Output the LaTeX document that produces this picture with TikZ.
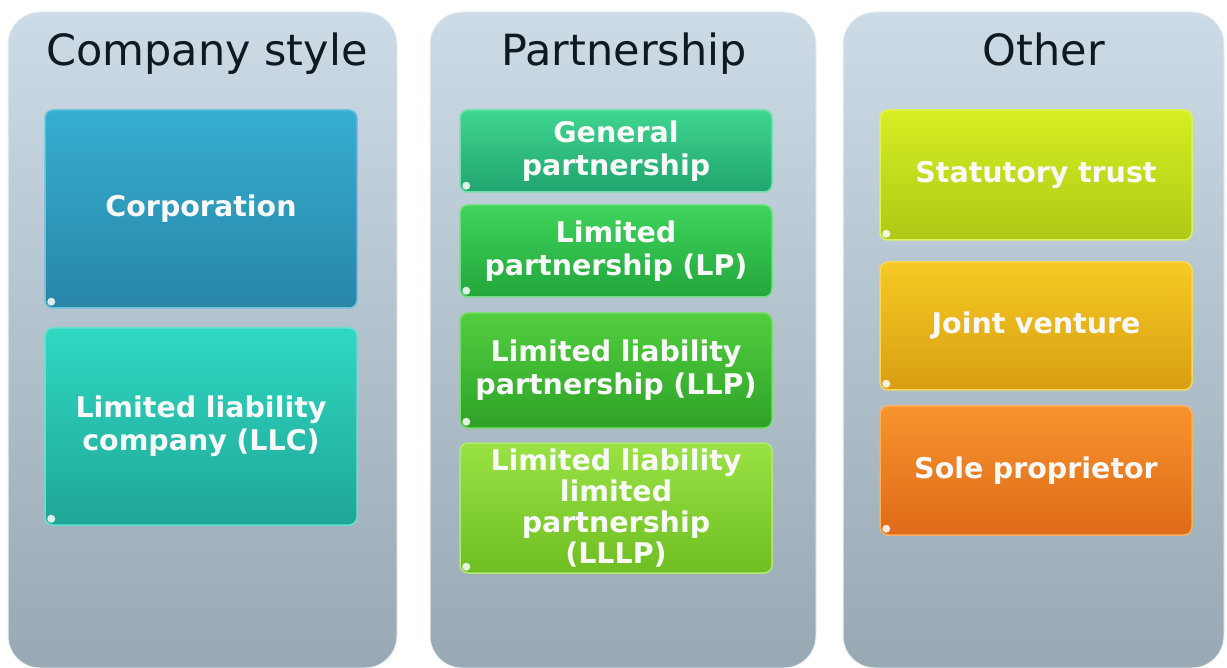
\documentclass[tikz,border=0pt]{standalone}
\usepackage{fontspec}
\setmainfont{DejaVu Sans}
\definecolor{paneltop}{HTML}{CCDBE5}
\definecolor{panelbot}{HTML}{98A9B3}
\definecolor{titlecol}{HTML}{101820}
\definecolor{corpT}{HTML}{36AED2}\definecolor{corpB}{HTML}{2886A6}
\definecolor{llcT}{HTML}{30D8C2}\definecolor{llcB}{HTML}{1FA696}
\definecolor{gpT}{HTML}{40D690}\definecolor{gpB}{HTML}{20A46E}
\definecolor{lpT}{HTML}{40D45E}\definecolor{lpB}{HTML}{22A63A}
\definecolor{llpT}{HTML}{52CE3E}\definecolor{llpB}{HTML}{2EA228}
\definecolor{lllpT}{HTML}{9AE244}\definecolor{lllpB}{HTML}{6EBE22}
\definecolor{stT}{HTML}{D6EE22}\definecolor{stB}{HTML}{AEC816}
\definecolor{jvT}{HTML}{F6CA24}\definecolor{jvB}{HTML}{D89E12}
\definecolor{spT}{HTML}{F8942E}\definecolor{spB}{HTML}{DE6A18}
\tikzset{
  panel/.style={rounded corners=32pt, top color=paneltop, bottom color=panelbot, draw=white!60!paneltop, line width=1pt},
  paneltitle/.style={anchor=base, font=\fontsize{43}{43}\selectfont, text=titlecol},
  entry/.style 2 args={rounded corners=8pt, top color=#1, bottom color=#2, draw=#1!75!white, line width=1.5pt,
     minimum width=312pt, text width=306pt, align=center, text=white!95!gray,
     font=\bfseries\fontsize{28.5}{33}\selectfont, inner sep=0pt},
  gloss/.style={fill=white, opacity=0.85, draw=none}
}
\begin{document}
\begin{tikzpicture}[x=1pt,y=-1pt]
\useasboundingbox (0,0) rectangle (1227,668);
\fill[white] (0,0) rectangle (1227,668);
% panels
\path[panel] (8,12) rectangle (397,668);
\path[panel] (430,12) rectangle (816,668);
\path[panel] (843,12) rectangle (1224,668);
\node[paneltitle] (t1) at (207,66) {Company style};
\node[paneltitle] (t2) at (624,66) {Partnership};
\node[paneltitle] (t3) at (1044,66) {Other};
% company style
\node[entry={corpT}{corpB}, minimum height=198pt] (corp) at (201,209) {Corporation};
\node[entry={llcT}{llcB}, minimum height=197pt] (llc) at (201,426.5) {Limited liability\\company (LLC)};
% partnership
\node[entry={gpT}{gpB}, minimum height=82pt] (gp) at (616,151) {General\\partnership};
\node[entry={lpT}{lpB}, minimum height=92pt] (lp) at (616,251) {Limited\\partnership (LP)};
\node[entry={llpT}{llpB}, minimum height=115pt] (llp) at (616,370.5) {Limited liability\\partnership (LLP)};
\node[entry={lllpT}{lllpB}, minimum height=130pt, font=\bfseries\fontsize{28.5}{31}\selectfont] (lllp) at (616,508) {Limited liability\\limited\\partnership\\(LLLP)};
% other
\node[entry={stT}{stB}, minimum height=130pt] (st) at (1036,175) {Statutory trust};
\node[entry={jvT}{jvB}, minimum height=128pt] (jv) at (1036,326) {Joint venture};
\node[entry={spT}{spB}, minimum height=129pt] (sp) at (1036,470.5) {Sole proprietor};
% gloss dots
\foreach \n in {corp,llc,gp,lp,llp,lllp,st,jv,sp}{
  \fill[gloss] ([xshift=7pt,yshift=7pt]\n.south west) circle (4pt);
}
\end{tikzpicture}
\end{document}
